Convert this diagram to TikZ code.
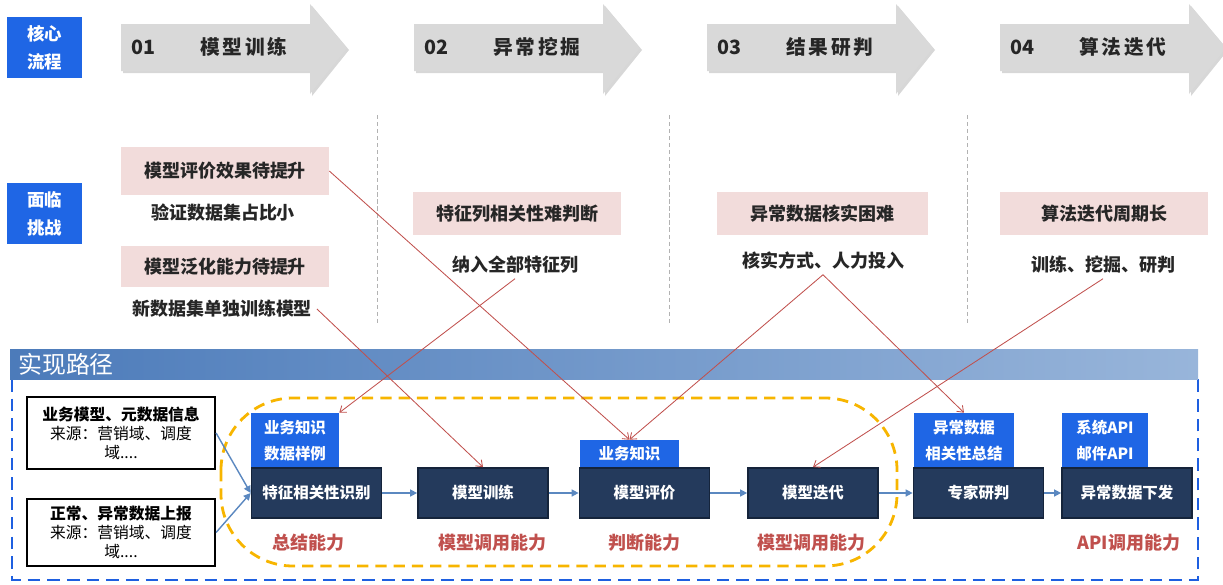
\documentclass[tikz,border=0pt]{standalone}
\usepackage{fontspec}
\setmainfont{Noto Sans CJK SC}
\usetikzlibrary{arrows.meta}

\definecolor{tagblue}{HTML}{1F66E5}
\definecolor{navy}{HTML}{243A5C}
\definecolor{navyline}{HTML}{15243B}
\definecolor{pinkbg}{HTML}{F2DCDB}
\definecolor{redline}{HTML}{C0504D}
\definecolor{flowblue}{HTML}{5B88C0}
\definecolor{gold}{HTML}{F7B500}
\definecolor{dashblue}{HTML}{1E5FE0}
\definecolor{barL}{HTML}{4C7BBA}
\definecolor{barR}{HTML}{98B5DA}
\definecolor{arrowgray}{HTML}{D9D9D9}
\definecolor{ink}{HTML}{262626}

\tikzset{
  tag/.style={fill=tagblue,text=white,align=center,inner sep=0pt,
    minimum width=1.875cm,minimum height=1.525cm,
    font=\bfseries\fontsize{12.4}{20}\selectfont},
  stepnum/.style={text=ink,font=\bfseries\fontsize{14}{16}\selectfont},
  steptitle/.style={text=ink,font=\bfseries\addfontfeature{LetterSpace=14}\fontsize{14}{16}\selectfont},
  challenge/.style={fill=pinkbg,text=ink,inner sep=0pt,minimum width=5.2cm,
    minimum height=1.05cm,font=\bfseries\fontsize{12.8}{16}\selectfont},
  cause/.style={text=ink,font=\bfseries\fontsize{12.8}{16}\selectfont},
  sepline/.style={gray!60,line width=.6pt,dash pattern=on 3pt off 2pt},
  src/.style={draw=black,line width=1.5pt,fill=white,align=center,inner sep=0pt,
    minimum width=4.7cm,font=\fontsize{11.2}{13.5}\selectfont},
  know/.style={fill=tagblue,text=white,align=center,inner sep=0pt,
    font=\bfseries\fontsize{11}{18.5}\selectfont},
  task/.style={fill=navy,draw=navyline,line width=1.2pt,text=white,inner sep=0pt,
    minimum width=3.25cm,minimum height=1.25cm,font=\bfseries\fontsize{11}{13}\selectfont},
  skill/.style={text=redline,font=\bfseries\fontsize{12.8}{15}\selectfont},
  flow/.style={flowblue,line width=1pt,-{Triangle[length=5pt,width=5pt]}},
  hint/.style={redline,line width=.6pt,-{Straight Barb[length=4pt,width=6pt]}}
}

\begin{document}
\begin{tikzpicture}[x=0.025cm,y=-0.025cm]
\useasboundingbox (0,0) rectangle (1223,585);

% row labels
\node[tag] (core) at (44.5,47.5) {核心\\流程};
\node[tag] (face) at (44.5,213.5) {面临\\挑战};

% process arrows
\foreach \x/\num/\name in {121/01/模型训练,414/02/异常挖掘,707/03/结果研判,1000/04/算法迭代}{
  \fill[gray!70,opacity=.45] (\x+2,26)--(\x+191,26)--(\x+191,6)--(\x+228,50)--(\x+191,96)--(\x+191,73)--(\x+2,73)--cycle;
  \fill[arrowgray] (\x,24)--(\x+189,24)--(\x+189,4)--(\x+226,48)--(\x+189,94)--(\x+189,71)--(\x,71)--cycle;
  \node[stepnum] (num\num) at (\x+22,47) {\num};
  \node[steptitle] (title\num) at (\x+123,47) {\name};
}

% column separators
\foreach \x in {377,669,967}
  \draw[sepline] (\x,115)--(\x,325);

% challenges
\node[challenge,minimum height=1.2cm] (c1) at (225,171) {模型评价效果待提升};
\node[cause] (s1) at (223,213) {验证数据集占比小};
\node[challenge,minimum height=1.025cm] (c2) at (225,266.5) {模型泛化能力待提升};
\node[cause] (s2) at (222,309) {新数据集单独训练模型};
\node[challenge] (c3) at (517,213.5) {特征列相关性难判断};
\node[cause] (s3) at (515,265) {纳入全部特征列};
\node[challenge,minimum width=5.275cm] (c4) at (822.5,213.5) {异常数据核实困难};
\node[cause] (s4) at (823,261) {核实方式、人力投入};
\node[challenge] (c5) at (1104,213.5) {算法迭代周期长};
\node[cause] (s5) at (1103,265) {训练、挖掘、研判};

% implementation path
\draw[dashblue,line width=2pt,dash pattern=on 9pt off 5pt] (12,379) rectangle (1198,580);
\shade[left color=barL,right color=barR] (10,349) rectangle (1198,379);
\node[anchor=west,text=white,inner sep=0pt,font=\fontsize{17}{20}\selectfont] (path) at (18,364) {实现路径};
\draw[gold,line width=2pt,dash pattern=on 8pt off 5pt,rounded corners=1.8cm] (221,398) rectangle (897,566);

\node[src,minimum height=1.8cm] (in1) at (121,433) {\textbf{业务模型、元数据信息}\\来源：营销域、调度\\域....};
\node[src,minimum height=1.675cm] (in2) at (121,532.5) {\textbf{正常、异常数据上报}\\来源：营销域、调度\\域....};

\node[know,minimum width=2.2cm,minimum height=1.375cm] (k1) at (295,440.5) {业务知识\\数据样例};
\node[know,minimum width=2.475cm,minimum height=.7cm] (k3) at (629.5,454) {业务知识};
\node[know,minimum width=2.5cm,minimum height=1.375cm] (k5) at (964,440.5) {异常数据\\相关性总结};
\node[know,minimum width=2.15cm,minimum height=1.375cm] (k6) at (1105,440.5) {系统API\\邮件API};

\node[task] (n1) at (316.5,493) {特征相关性识别};
\node[task] (n2) at (483,493) {模型训练};
\node[task] (n3) at (644.5,493) {模型评价};
\node[task] (n4) at (813,493) {模型迭代};
\node[task] (n5) at (978.5,493) {专家研判};
\node[task] (n6) at (1127,493) {异常数据下发};

\draw[flow] (in1.east) -- (n1.west);
\draw[flow] (in2.east) -- (n1.west);
\foreach \a/\b in {n1/n2,n2/n3,n3/n4,n4/n5,n5/n6}
  \draw[flow] (\a) -- (\b);

\node[skill] (a1) at (308,543) {总结能力};
\node[skill] (a2) at (492,543) {模型调用能力};
\node[skill] (a3) at (644,543) {判断能力};
\node[skill] (a4) at (811,543) {模型调用能力};
\node[skill] (a5) at (1129,543) {API调用能力};

% challenge -> where it is handled
\draw[hint] (c1.east) -- (k3.north);
\draw[hint] (s2.east) -- (n2.north);
\draw[hint] (s3.south) -- (k1.north east);
\draw[hint] (s4.south) -- (k3.north);
\draw[hint] (s4.south) -- (k5.north);
\draw[hint] (s5.south) -- (n4.north);
\end{tikzpicture}
\end{document}
